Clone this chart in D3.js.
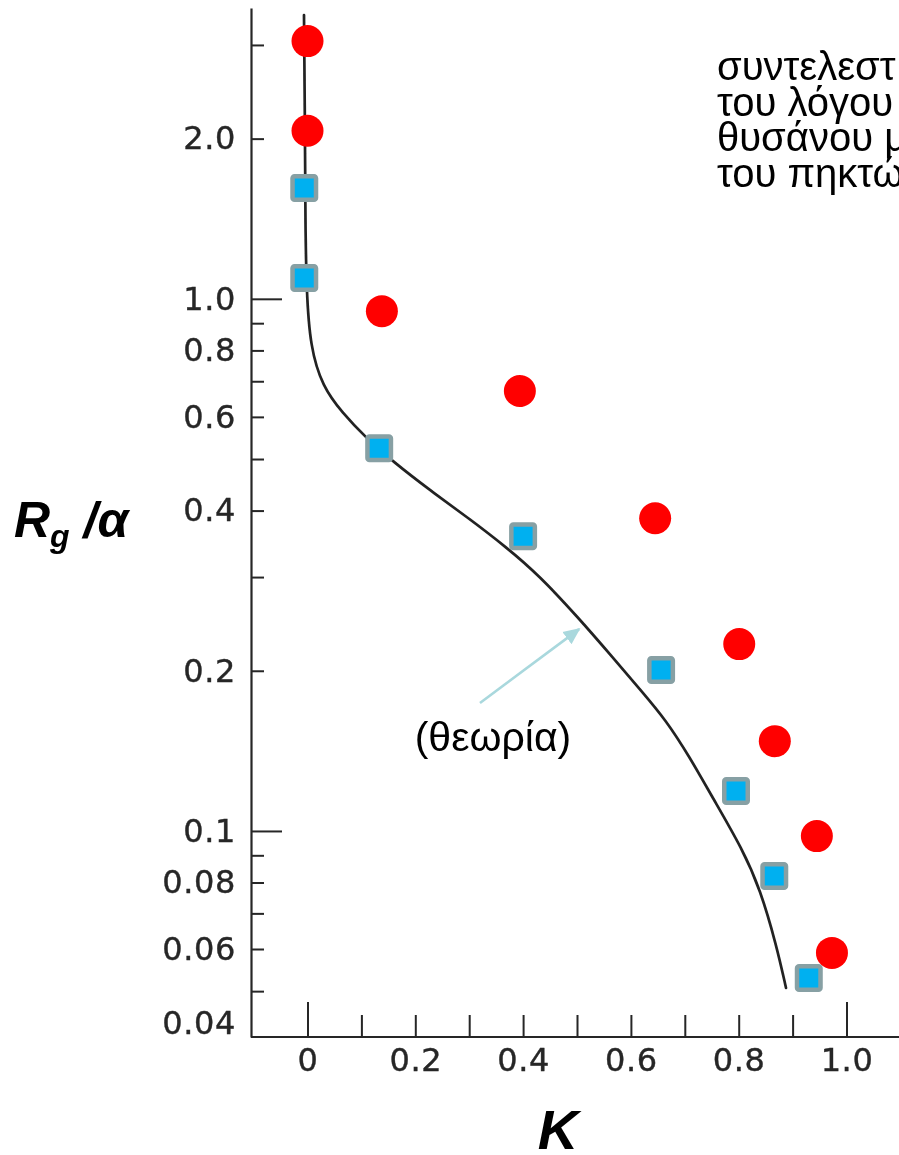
<!DOCTYPE html>
<html>
<head>
<meta charset="utf-8">
<script src="https://cdn.jsdelivr.net/npm/d3@7"></script>
<style>
  html, body { margin: 0; padding: 0; background: #fff; overflow: hidden; }
  svg { display: block; }
</style>
</head>
<body>
<svg id="chart" width="899" height="1155"></svg>
<script>
// Radius of gyration ratio Rg/α versus partition coefficient K (log scale)

// x axis: K
const xTickValues = [0, 0.1, 0.2, 0.3, 0.4, 0.5, 0.6, 0.7, 0.8, 0.9, 1.0];
const xMajorTicks = [0, 1.0];
const xLabelValues = [0, 0.2, 0.4, 0.6, 0.8, 1.0];
const xLabelTexts = ["0", "0.2", "0.4", "0.6", "0.8", "1.0"];

// y axis: Rg/α
const yTickValues = [3, 2, 1, 0.9, 0.8, 0.7, 0.6, 0.5, 0.4, 0.3, 0.2, 0.1, 0.09, 0.08, 0.07, 0.06, 0.05];
const yMajorTicks = [1, 0.1];
const yLabelValues = [2, 1, 0.8, 0.6, 0.4, 0.2, 0.1, 0.08, 0.06, 0.04];
const yLabelTexts = ["2.0", "1.0", "0.8", "0.6", "0.4", "0.2", "0.1", "0.08", "0.06", "0.04"];

// theoretical curve
const theoryK = [-0.0065, -0.0046, -0.0040, -0.0020, 0.0050, 0.0280, 0.0650, 0.1070, 0.1590, 0.2270,
                 0.2960, 0.3680, 0.4300, 0.5050, 0.5660, 0.6180, 0.6650, 0.7090, 0.7510, 0.8070,
                 0.8400, 0.8700, 0.8878];
const theoryR = [3.415, 2.031, 1.406, 1.039, 0.812, 0.683, 0.610, 0.550, 0.494, 0.437,
                 0.389, 0.342, 0.302, 0.250, 0.212, 0.184, 0.1616, 0.1377, 0.1158, 0.0925,
                 0.0776, 0.0610, 0.0507];

// measured points, red circles
const redK = [0.0, 0.0, 0.138, 0.394, 0.645, 0.801, 0.867, 0.945, 0.973];
const redR = [3.05, 2.07, 0.948, 0.671, 0.387, 0.2245, 0.1475, 0.0978, 0.0590];

// measured points, blue squares
const blueK = [-0.006, -0.006, 0.133, 0.400, 0.656, 0.795, 0.866, 0.930];
const blueR = [1.615, 1.094, 0.524, 0.358, 0.2006, 0.1189, 0.0823, 0.0529];

// annotation arrow, in data units (tail, head)
const arrowK = [0.320, 0.504];
const arrowR = [0.174, 0.2395];

const descLines = ["συντελεστ", "του λόγου", "θυσάνου μ", "του πηκτώ"];

const W = 899, H = 1155;
const axisX = 251, axisY = 1037, axisTop = 8;
const textFont = "'Liberation Sans', Arial, Helvetica, sans-serif";

const svg = d3.select("#chart");

const defs = svg.append("defs");
defs.append("filter").attr("id", "soft")
  .attr("x", "-5%").attr("y", "-5%").attr("width", "110%").attr("height", "110%")
  .append("feGaussianBlur").attr("stdDeviation", 0.5);
defs.append("marker").attr("id", "arrowhead")
  .attr("viewBox", "0 0 10 10").attr("refX", 9).attr("refY", 5)
  .attr("markerWidth", 6.5).attr("markerHeight", 6.5).attr("markerUnits", "strokeWidth")
  .attr("orient", "auto")
  .append("path").attr("d", "M0,0.5 L10,5 L0,9.5 Z").attr("fill", "#a9d8dd");

const x = d3.scaleLinear().domain([0, 1]).range([307.5, 846.5]);
const y = d3.scaleLog().domain([0.041, 3.52]).range([axisY, axisTop]);

const scan = svg.append("g").attr("filter", "url(#soft)");
const ink = "#262626";
const tickFont = "'DejaVu Sans', sans-serif";

// y axis: line and ticks (ticks point into the plot)
const yAxisTicks = scan.append("g")
  .attr("transform", `translate(${axisX},0)`)
  .call(d3.axisLeft(y).tickValues(yTickValues).tickFormat("").tickSizeInner(-13).tickSizeOuter(0));
yAxisTicks.select(".domain").attr("stroke", ink).attr("stroke-width", 2.2);
yAxisTicks.selectAll(".tick line").attr("stroke", ink).attr("stroke-width", 2)
  .attr("x2", d => yMajorTicks.includes(d) ? 31 : 13);

// y labels
const yAxisLabels = scan.append("g")
  .attr("transform", `translate(${axisX},0)`)
  .call(d3.axisLeft(y).tickValues(yLabelValues).tickFormat((d, i) => yLabelTexts[i]).tickSize(0).tickPadding(15));
yAxisLabels.select(".domain").remove();
yAxisLabels.attr("font-family", tickFont).attr("font-size", 32);
yAxisLabels.selectAll(".tick text").attr("fill", ink).attr("letter-spacing", 0.6)
  .attr("stroke", ink).attr("stroke-width", 0.4);
// the lowest label sits just above the corner of the axes
yAxisLabels.selectAll(".tick")
  .filter(d => d === d3.min(yLabelValues))
  .attr("transform", `translate(0,${axisY - 13})`);

// x axis line, running from the y axis to the page edge
scan.append("line")
  .attr("x1", axisX).attr("x2", W).attr("y1", axisY).attr("y2", axisY)
  .attr("stroke", ink).attr("stroke-width", 2.2);

const xAxisTicks = scan.append("g")
  .attr("transform", `translate(0,${axisY})`)
  .call(d3.axisBottom(x).tickValues(xTickValues).tickFormat("").tickSizeInner(-22).tickSizeOuter(0));
xAxisTicks.select(".domain").remove();
xAxisTicks.selectAll(".tick line").attr("stroke", ink).attr("stroke-width", 2)
  .attr("y2", d => xMajorTicks.includes(d) ? -35 : -22);

const xAxisLabels = scan.append("g")
  .attr("transform", `translate(0,${axisY})`)
  .call(d3.axisBottom(x).tickValues(xLabelValues).tickFormat((d, i) => xLabelTexts[i]).tickSize(0).tickPadding(11));
xAxisLabels.select(".domain").remove();
xAxisLabels.attr("font-family", tickFont).attr("font-size", 32);
xAxisLabels.selectAll(".tick text").attr("fill", ink).attr("letter-spacing", 0.6)
  .attr("stroke", ink).attr("stroke-width", 0.4);

// theoretical curve
const theory = theoryK.map((k, i) => [k, theoryR[i]]);
scan.append("path")
  .datum(theory)
  .attr("fill", "none")
  .attr("stroke", "#222")
  .attr("stroke-width", 2.7)
  .attr("stroke-linecap", "round")
  .attr("d", d3.line().x(d => x(d[0])).y(d => y(d[1])).curve(d3.curveBasis));

// red circles
svg.append("g").selectAll("circle")
  .data(redK.map((k, i) => [k, redR[i]]))
  .join("circle")
  .attr("cx", d => x(d[0])).attr("cy", d => y(d[1]))
  .attr("r", 16)
  .attr("fill", "#ff0000");

// blue squares
const sq = 23.5;
svg.append("g").selectAll("rect")
  .data(blueK.map((k, i) => [k, blueR[i]]))
  .join("rect")
  .attr("x", d => x(d[0]) - sq / 2).attr("y", d => y(d[1]) - sq / 2)
  .attr("width", sq).attr("height", sq)
  .attr("rx", 2).attr("ry", 2)
  .attr("fill", "#00b0f0")
  .attr("stroke", "#87a0a4")
  .attr("stroke-width", 4.5);

// annotation for the theory curve
const ax0 = x(arrowK[0]), ay0 = y(arrowR[0]);
const ax1 = x(arrowK[1]), ay1 = y(arrowR[1]);
svg.append("line")
  .attr("x1", ax0).attr("y1", ay0).attr("x2", ax1).attr("y2", ay1)
  .attr("stroke", "#a9d8dd").attr("stroke-width", 2.6)
  .attr("marker-end", "url(#arrowhead)");
svg.append("text")
  .attr("x", ax0 + 13).attr("y", ay0 + 48)
  .attr("text-anchor", "middle")
  .attr("font-family", textFont)
  .attr("font-size", 41)
  .attr("fill", "#000")
  .text("(θεωρία)");

// description block at the top right
svg.append("g").selectAll("text")
  .data(descLines)
  .join("text")
  .attr("x", 717)
  .attr("y", (d, i) => 80 + i * 35.5)
  .attr("font-family", textFont)
  .attr("font-size", 40)
  .attr("fill", "#000")
  .text(d => d);

// axis titles
const yTitle = svg.append("text")
  .attr("x", 14).attr("y", 537)
  .attr("font-family", textFont)
  .attr("font-weight", "bold").attr("font-style", "italic")
  .attr("font-size", 50)
  .attr("fill", "#000");
yTitle.append("tspan").text("R");
yTitle.append("tspan").attr("font-size", 32).attr("dy", 10).text("g");
yTitle.append("tspan").attr("dy", -10).text(" /α");

svg.append("text")
  .attr("x", 558).attr("y", 1149)
  .attr("text-anchor", "middle")
  .attr("font-family", textFont)
  .attr("font-weight", "bold").attr("font-style", "italic")
  .attr("font-size", 56)
  .attr("fill", "#000")
  .text("K");
</script>
</body>
</html>
